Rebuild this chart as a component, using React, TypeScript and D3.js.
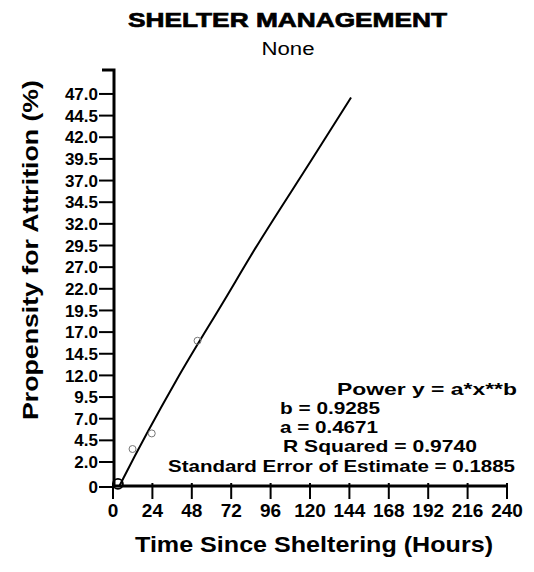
import React from "react";
import * as d3 from "d3";

const title = "SHELTER MANAGEMENT";
const subtitle = "None";
const xTitle = "Time Since Sheltering (Hours)";
const yTitle = "Propensity for Attrition (%)";

const xTickValues = [0, 24, 48, 72, 96, 120, 144, 168, 192, 216, 240];
const yTickValues = [0, 2, 4.5, 7, 9.5, 12, 14.5, 17, 19.5, 22, 27, 29.5, 32, 34.5, 37, 39.5, 42, 44.5, 47];
const yTickLabels = ["0", "2.0", "4.5", "7.0", "9.5", "12.0", "14.5", "17.0", "19.5", "22.0", "27.0", "29.5", "32.0", "34.5", "37.0", "39.5", "42.0", "44.5", "47.0"];

// fitted curve
const fitHours = [4, 6.3, 38.8, 68.2, 85.5, 121.0, 145.0];
const fitValues = [0.1, 0.7, 11.5, 20.8, 28.8, 39.4, 46.6];

// observed points (faint marks)
const obsHours = [3, 11.9, 23.6, 51.5];
const obsValues = [0.25, 3.5, 5.3, 16.0];

const annotLines = [
  "Power y = a*x**b",
  "b = 0.9285",
  "a = 0.4671",
  "R Squared = 0.9740",
  "Standard Error of Estimate = 0.1885",
];

const FONT = "'Liberation Sans', Arial, Helvetica, sans-serif";

export default function App() {
  const W = 534, H = 572;
  const x0 = 113, x1 = 507;
  const yZero = 487, yFirst = 462, yStep = 21.65;

  const x = d3.scaleLinear().domain([0, 240]).range([x0, x1]);
  const y = d3
    .scaleLinear()
    .domain(yTickValues)
    .range(yTickValues.map((_, i) => (i === 0 ? yZero : yFirst - (i - 1) * yStep)));

  const line = d3
    .line<number>()
    .x((_, i) => x(fitHours[i]))
    .y((d) => y(d))
    .curve(d3.curveMonotoneX);

  const annotX = [337, 280, 280, 283, 168];
  const annotLen = [180, 100, 98, 194, 347];
  const annotY = [395, 414, 433, 452, 472];

  return (
    <svg width={W} height={H} style={{ position: "absolute", left: 0, top: 0, background: "#fff" }} fontFamily={FONT}>
      <text x={287.5} y={27} textAnchor="middle" fontSize={21} fontWeight={900} stroke="#000" strokeWidth={0.7}
        textLength={319} lengthAdjust="spacingAndGlyphs">{title}</text>
      <text x={288} y={55} textAnchor="middle" fontSize={18} textLength={53} lengthAdjust="spacingAndGlyphs">{subtitle}</text>

      {/* y axis */}
      <path d={`M${x0 - 11},70 H${x0 + 1} V${yZero}`} fill="none" stroke="#000" strokeWidth={3} />
      {yTickValues.map((v, i) => (
        <g key={i}>
          <line x1={x0 - 14} x2={x0} y1={y(v)} y2={y(v)} stroke="#000" strokeWidth={2} />
          <text x={x0 - 15} y={y(v)} dy="0.36em" textAnchor="end" fontSize={17} fontWeight="bold">{yTickLabels[i]}</text>
        </g>
      ))}

      {/* x axis */}
      <line x1={x0} x2={x1} y1={yZero - 1} y2={yZero - 1} stroke="#000" strokeWidth={3} />
      {xTickValues.map((v) => (
        <g key={v}>
          <line x1={x(v)} x2={x(v)} y1={yZero - 4} y2={yZero + 12} stroke="#000" strokeWidth={2} />
          <text x={x(v)} y={517} textAnchor="middle" fontSize={19} fontWeight="bold">{v}</text>
        </g>
      ))}

      <text x={314} y={552} textAnchor="middle" fontSize={22} fontWeight="bold" textLength={358} lengthAdjust="spacingAndGlyphs">{xTitle}</text>
      <text transform={`translate(38,250) rotate(-90)`} textAnchor="middle" fontSize={22} fontWeight="bold" textLength={340} lengthAdjust="spacingAndGlyphs">{yTitle}</text>

      {/* fitted curve */}
      <path d={line(fitValues) || ""} fill="none" stroke="#000" strokeWidth={2} />
      {obsHours.map((h, i) => (
        <circle key={i} cx={x(h)} cy={y(obsValues[i])} r={i === 0 ? 5 : 3.5} fill="none" stroke={i === 0 ? "#000" : "#777"} strokeWidth={i === 0 ? 1.8 : 1} />
      ))}

      {annotLines.map((t, i) => (
        <text key={i} x={annotX[i]} y={annotY[i]} fontSize={17} fontWeight="bold" textLength={annotLen[i]} lengthAdjust="spacingAndGlyphs">{t}</text>
      ))}
    </svg>
  );
}
